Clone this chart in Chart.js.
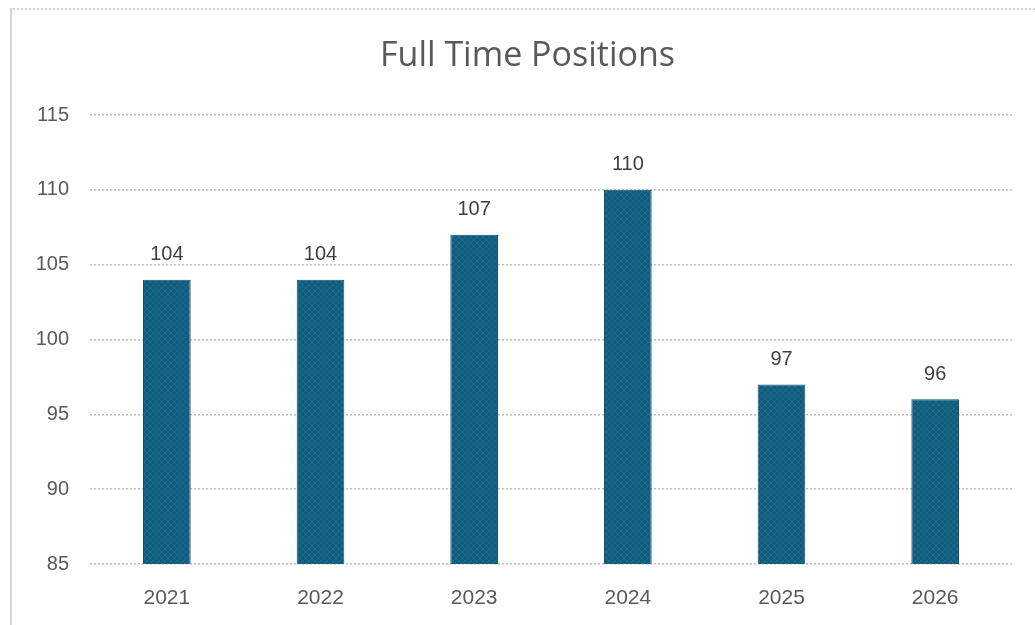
<!DOCTYPE html>
<html>
<head>
<meta charset="utf-8">
<script src="https://cdn.jsdelivr.net/npm/chart.js@4.4.1/dist/chart.umd.min.js"></script>
<style>
  html, body { margin: 0; padding: 0; background: #fff; }
  #frame {
    position: absolute; left: 10px; top: 8px; width: 1025px; height: 617px;
    border-left: 2px solid #d6d6d6; border-top: 2px dotted #d0d0d0;
    box-sizing: border-box;
  }
  #wrap { position: absolute; left: 0; top: 0; width: 1035px; height: 625px; }
</style>
</head>
<body>
<div id="frame"></div>
<div id="wrap"><canvas id="chart"></canvas></div>
<script>
document.addEventListener('DOMContentLoaded', () => {

    const years = ['2021', '2022', '2023', '2024', '2025', '2026'];
    const positions = [104, 104, 107, 110, 97, 96];
    const yTicks = [85, 90, 95, 100, 105, 110, 115];
    const chartTitle = 'Full Time Positions';

    const textGrey = '#595959';
    const barBlue = '#115d7d';

    // small crosshatch tile for the bar fill
    function hatch() {
        const c = document.createElement('canvas');
        c.width = 6; c.height = 6;
        const g = c.getContext('2d');
        g.fillStyle = barBlue;
        g.fillRect(0, 0, 6, 6);
        g.strokeStyle = 'rgba(40, 120, 150, 0.5)';
        g.lineWidth = 1;
        g.beginPath();
        g.moveTo(0, 0); g.lineTo(6, 6);
        g.moveTo(6, 0); g.lineTo(0, 6);
        g.stroke();
        return g.createPattern(c, 'repeat');
    }

    // value labels above each bar
    const valueLabels = {
        id: 'valueLabels',
        afterDatasetsDraw(chart) {
            const ctx = chart.ctx;
            const meta = chart.getDatasetMeta(0);
            ctx.save();
            ctx.font = '20px "Liberation Sans", Arial, sans-serif';
            ctx.fillStyle = '#404040';
            ctx.textAlign = 'center';
            ctx.textBaseline = 'bottom';
            meta.data.forEach((bar, i) => {
                ctx.fillText(positions[i], bar.x, bar.y - 15);
            });
            ctx.restore();
        }
    };

    // title centred over the whole frame rather than the padded box
    const frameTitle = {
        id: 'frameTitle',
        afterDraw(chart) {
            const ctx = chart.ctx;
            ctx.save();
            ctx.font = '34px "Open Sans", sans-serif';
            ctx.fillStyle = textGrey;
            ctx.textAlign = 'center';
            ctx.textBaseline = 'middle';
            ctx.fillText(chartTitle, (chart.chartArea.left + chart.width) / 2 - 35, 56);
            ctx.restore();
        }
    };

    const ctx = document.getElementById('chart').getContext('2d');
    new Chart(ctx, {
        type: 'bar',
        data: {
            labels: years,
            datasets: [{
                label: chartTitle,
                data: positions,
                backgroundColor: hatch(),
                borderColor: '#0c5070',
                borderWidth: 1,
                categoryPercentage: 1,
                barPercentage: 0.31
            }]
        },
        options: {
            responsive: true,
            maintainAspectRatio: false,
            animation: false,
            layout: { padding: { left: 10, right: 23, top: 115, bottom: 10 } },
            plugins: {
                legend: { display: false },
                tooltip: { enabled: false },
                title: { display: false }
            },
            scales: {
                x: {
                    grid: { display: false },
                    border: { display: false },
                    ticks: {
                        color: textGrey,
                        font: { family: '"Liberation Sans", Arial, sans-serif', size: 21 },
                        padding: 14
                    },
                    afterFit(scale) { scale.height = 51; }
                },
                y: {
                    min: 85,
                    max: 115,
                    afterBuildTicks(scale) { scale.ticks = yTicks.map(v => ({ value: v })); },
                    grid: {
                        color: '#bcbcbc',
                        lineWidth: 1.5,
                        drawTicks: false
                    },
                    border: { display: false, dash: [2, 2] },
                    ticks: {
                        color: textGrey,
                        font: { family: '"Liberation Sans", Arial, sans-serif', size: 20 },
                        padding: 21
                    },
                    afterFit(scale) { scale.width = 80; }
                }
            }
        },
        plugins: [valueLabels, frameTitle]
    });
});
</script>
</body>
</html>
